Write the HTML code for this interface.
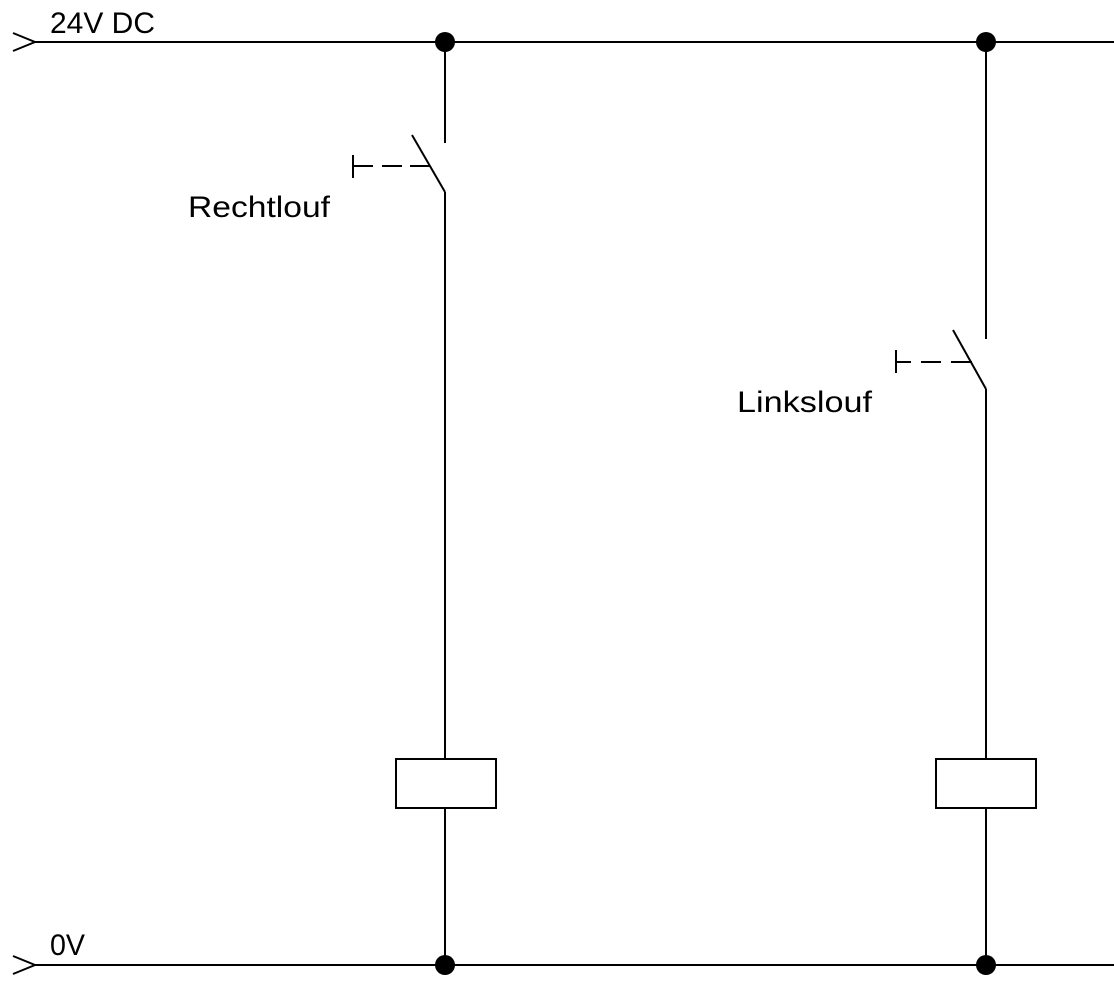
<!DOCTYPE html>
<html><head><meta charset="utf-8"><style>html,body{margin:0;padding:0;background:#fff}svg{display:block}</style></head>
<body>
<svg width="1114" height="993" viewBox="0 0 1114 993" xmlns="http://www.w3.org/2000/svg">
<g stroke="#000" stroke-width="2" fill="none">
<polyline points="13,33 35,42 13,51"/>
<line x1="35" y1="42" x2="1114" y2="42"/>
<polyline points="13,956 35,965 13,974"/>
<line x1="35" y1="965" x2="1114" y2="965"/>
<!-- left branch -->
<line x1="445" y1="42" x2="445" y2="143"/>
<line x1="412" y1="135" x2="445" y2="192"/>
<line x1="445" y1="192" x2="445" y2="759"/>
<line x1="353" y1="155" x2="353" y2="178"/>
<line x1="353" y1="166" x2="373" y2="166"/>
<line x1="382" y1="166" x2="402" y2="166"/>
<line x1="410" y1="166" x2="430" y2="166"/>
<rect x="396" y="759" width="100" height="49"/>
<line x1="445" y1="808" x2="445" y2="965"/>
<!-- right branch -->
<line x1="986" y1="42" x2="986" y2="339"/>
<line x1="953" y1="330" x2="986" y2="389"/>
<line x1="986" y1="389" x2="986" y2="759"/>
<line x1="896" y1="350" x2="896" y2="373"/>
<line x1="896" y1="362" x2="911" y2="362"/>
<line x1="921" y1="362" x2="941" y2="362"/>
<line x1="951" y1="362" x2="972" y2="362"/>
<rect x="936" y="759" width="100" height="49"/>
<line x1="986" y1="808" x2="986" y2="965"/>
</g>
<g fill="#000">
<circle cx="445" cy="42" r="10"/>
<circle cx="986" cy="42" r="10"/>
<circle cx="445" cy="965" r="10"/>
<circle cx="986" cy="965" r="10"/>
</g>
<g font-family="Liberation Sans, sans-serif" font-size="30" fill="#000" font-weight="normal">
<text x="50" y="33" textLength="105" lengthAdjust="spacingAndGlyphs">24V DC</text>
<text x="188" y="217" textLength="142" lengthAdjust="spacingAndGlyphs">Rechtlouf</text>
<text x="737" y="412" textLength="135" lengthAdjust="spacingAndGlyphs">Linkslouf</text>
<text x="50" y="955" textLength="35" lengthAdjust="spacingAndGlyphs">0V</text>
</g>
</svg>
</body></html>
